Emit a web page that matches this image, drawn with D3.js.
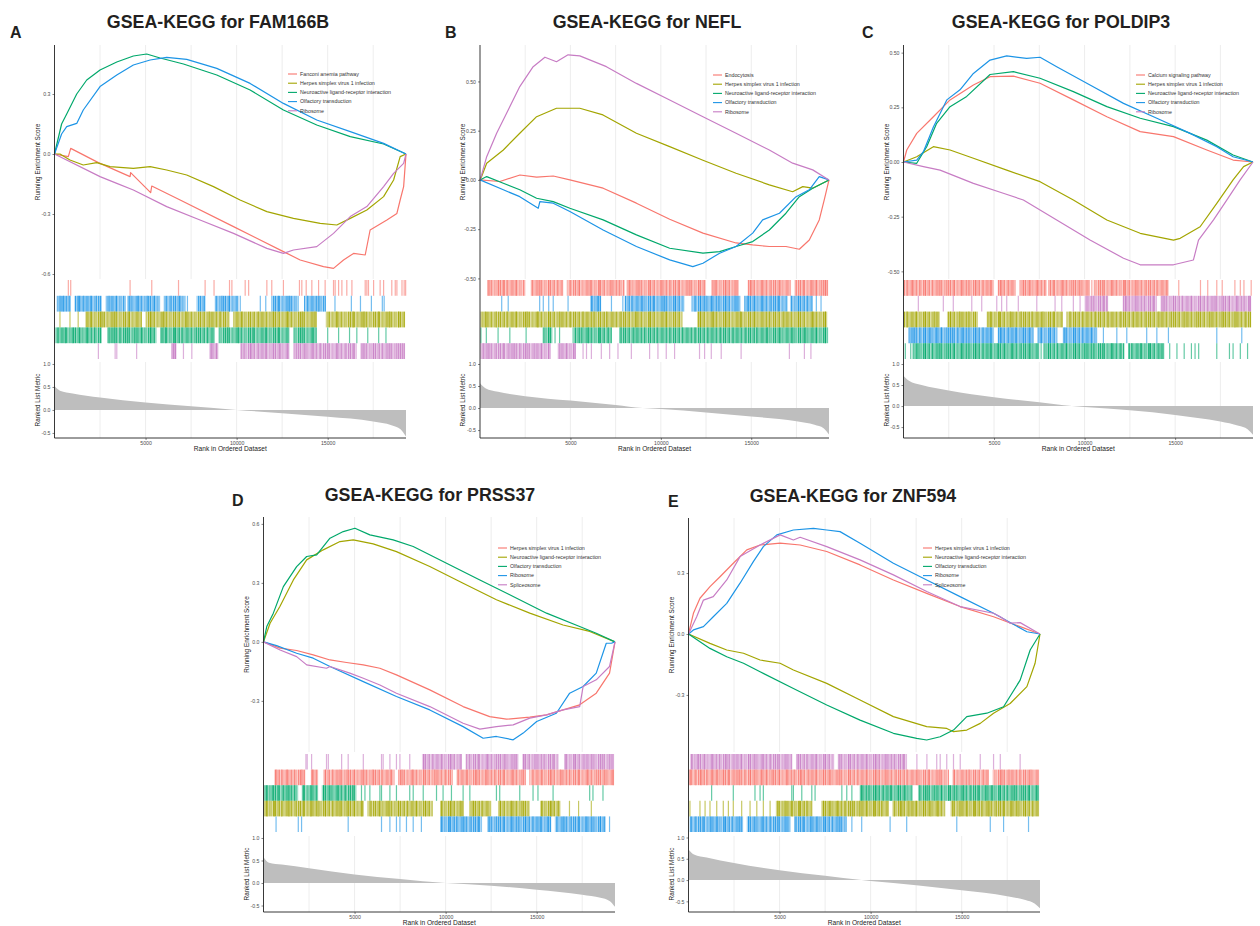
<!DOCTYPE html>
<html>
<head>
<meta charset="utf-8">
<script src="https://cdn.jsdelivr.net/npm/d3@7"></script>
<style>
	body {margin: 0; background: #fff;}
	svg {display: block; font-family: "Liberation Sans", Arial, sans-serif;}
</style>
</head>
<body>
<svg id="fig" width="1260" height="926"></svg>
<script>
// ggplot-like hue palette, legend order
const colors = ["#F8766D", "#A3A500", "#00A86B", "#1C94E6", "#C77CC4"];
const nGenes = 19300;
const rankTicks = [5000, 10000, 15000];
const gridRanks = [2500, 5000, 7500, 10000, 12500, 15000, 17500];
const metricTicks = [-0.5, 0, 0.5, 1.0];

// ES points are [rank in thousands, running enrichment score]
// rug rows are [series index, hits]; a number is one hit, a pair is a dense run of hits
// ---------- A ----------
const titleA = "GSEA-KEGG for FAM166B";
const namesA = ["Fanconi anemia pathway", "Herpes simplex virus 1 infection", "Neuroactive ligand-receptor interaction", "Olfactory transduction", "Ribosome"];
const esA = [
	[[0,0],[0.76,-0.013],[0.89,0.028],[2.41,-0.043],[4.15,-0.113],[4.18,-0.093],[5.28,-0.193],[5.34,-0.16],[6.9,-0.23],[9.83,-0.363],[12.57,-0.488],[13.49,-0.53],[14.77,-0.563],[15.32,-0.572],[15.87,-0.53],[16.42,-0.497],[17.06,-0.505],[17.33,-0.38],[18.25,-0.33],[18.8,-0.297],[18.98,-0.23],[19.17,-0.163],[19.3,0]],
	[[0,0],[0.3,0],[0.85,-0.03],[1.58,-0.055],[2.32,-0.043],[3.05,-0.063],[4.33,-0.072],[5.25,-0.063],[6.16,-0.08],[7.26,-0.105],[8.73,-0.163],[10.19,-0.23],[11.66,-0.288],[13.12,-0.322],[14.59,-0.347],[15.5,-0.355],[16.24,-0.322],[17.15,-0.28],[18.07,-0.213],[18.62,-0.13],[18.98,-0.013],[19.3,0]],
	[[0,0],[0.39,0.15],[0.67,0.2],[1.22,0.3],[1.77,0.37],[2.5,0.42],[3.42,0.46],[4.33,0.49],[5.06,0.5],[5.8,0.48],[7.08,0.45],[8.91,0.395],[10.74,0.32],[12.57,0.22],[14.4,0.145],[16.24,0.087],[18.07,0.05],[19.3,0]],
	[[0,0],[0.39,0.1],[0.67,0.137],[1.22,0.153],[1.58,0.22],[2.5,0.337],[3.42,0.395],[4.33,0.445],[5.25,0.47],[6.16,0.483],[7.26,0.473],[8.91,0.428],[10.74,0.353],[12.57,0.253],[14.4,0.17],[16.24,0.112],[18.07,0.053],[19.3,0]],
	[[0,0],[2.5,-0.113],[3.42,-0.147],[4.33,-0.18],[6.16,-0.263],[7.99,-0.33],[9.83,-0.397],[11.66,-0.472],[12.57,-0.497],[13.12,-0.48],[14.4,-0.463],[15.32,-0.397],[16.24,-0.313],[17.15,-0.263],[18.07,-0.163],[18.62,-0.097],[19.17,-0.047],[19.3,0]]
];
const rugA = [
	[0, [0.76,0.89,4.15,5.34,6.81,8.27,8.76,9.61,9.74,10.47,10.66,11.66,11.93,12.57,13.45,13.58,13.82,14.13,14.5,14.86,15.32,15.41,15.6,15.78,16.05,16.33,17.06,17.15,17.24,17.52,17.88,18.07,18.52,18.71,18.8,19.08,19.2,19.28]],
	[3, [[0.12,0.9],[1.1,2.6],[2.8,3.9],[4.0,5.8],[6.0,7.2],[7.8,8.3],[8.8,10.1],[11.9,13.4],[13.7,14.9],0.3,0.5,0.8,1.3,1.4,1.6,2.0,2.3,3.0,3.4,4.2,4.6,5.1,5.5,6.4,6.9,7.3,9.2,9.6,10.2,11.3,11.6,12.3,12.9,13.9,14.5,15.4,16.3,16.8,17.4,18.0,18.1]],
	[1, [[1.7,4.8],[5.0,9.6],[9.8,14.4],[14.9,19.25],0.3,0.85,1.3,2.0,2.6,3.3,4.1,5.3,6.0,7.2,8.5,9.1,10.3,11.2,12.0,12.8,13.6,14.3,15.5,16.4,17.0,17.8,18.4,18.9]],
	[2, [[0,2.6],[2.9,5.6],[5.8,8.8],[9.0,12.9],[13.1,14.4],0.2,0.6,1.0,1.4,1.8,2.2,3.0,3.3,3.6,4.0,4.4,4.8,5.3,6.1,6.6,7.0,7.8,8.4,9.5,10.1,10.9,11.6,12.3,13.6,14.2,15.0,15.6,16.2,16.6,17.2,17.8,18.2]],
	[4, [[6.4,6.7],[8.5,9.0],[10.2,12.9],[13.1,16.6],[16.8,19.25],2.41,3.33,3.42,4.51,6.5,6.62,7.08,7.54,8.6,8.9,10.4,10.8,11.2,11.6,12.0,12.4,12.8,13.3,13.8,14.2,14.6,15.0,15.5,16.0,16.4,17.0,17.5,18.0,18.4,18.8,19.1]]
];
const metricA = [[0,0.52],[0.3,0.42],[1,0.36],[2.5,0.27],[5,0.16],[7.5,0.08],[10,0],[12.5,-0.07],[15,-0.15],[17.5,-0.25],[18.5,-0.33],[19,-0.42],[19.3,-0.58]];

// ---------- B ----------
const titleB = "GSEA-KEGG for NEFL";
const namesB = ["Endocytosis", "Herpes simplex virus 1 infection", "Neuroactive ligand-receptor interaction", "Olfactory transduction", "Ribosome"];
const esB = [
	[[0,0],[1.1,-0.008],[2.21,0.025],[3.13,0.014],[4.05,0.02],[4.97,0],[6.81,-0.042],[8.65,-0.118],[10.49,-0.2],[12.33,-0.27],[14.16,-0.32],[15.08,-0.33],[16.0,-0.338],[16.92,-0.338],[17.66,-0.352],[18.21,-0.305],[18.76,-0.203],[19.04,-0.1],[19.3,0]],
	[[0,0],[0.1,0.02],[0.37,0.085],[1.29,0.152],[2.2,0.237],[3.13,0.321],[4.23,0.364],[5.52,0.364],[6.8,0.33],[8.65,0.237],[10.49,0.169],[12.33,0.1],[14.16,0.034],[16.0,-0.025],[17.29,-0.06],[17.85,-0.034],[18.4,-0.042],[19.3,0]],
	[[0,0],[0.37,0.017],[1.29,-0.017],[2.2,-0.05],[3.13,-0.093],[4.05,-0.11],[4.97,-0.144],[6.81,-0.203],[8.65,-0.279],[10.49,-0.347],[12.33,-0.372],[13.25,-0.364],[14.16,-0.338],[15.08,-0.313],[16.0,-0.254],[16.92,-0.169],[17.66,-0.085],[18.4,-0.042],[19.3,0]],
	[[0,0],[1.29,-0.05],[2.2,-0.085],[3.22,-0.144],[3.31,-0.11],[4.05,-0.118],[4.97,-0.16],[6.81,-0.254],[8.65,-0.338],[10.49,-0.406],[11.77,-0.44],[12.33,-0.423],[13.25,-0.372],[14.16,-0.338],[15.08,-0.27],[15.63,-0.203],[16.56,-0.169],[17.48,-0.085],[18.21,-0.05],[18.76,0.017],[19.3,0]],
	[[0,0],[0.06,0.017],[0.37,0.118],[0.92,0.237],[1.47,0.338],[2.2,0.474],[2.94,0.575],[3.59,0.623],[4.23,0.6],[4.87,0.635],[5.52,0.63],[6.99,0.575],[8.65,0.49],[10.49,0.406],[12.33,0.321],[14.16,0.237],[16.0,0.152],[17.29,0.085],[18.4,0.051],[19.3,0]]
];
const rugB = [
	[0, [[0.4,2.5],[2.8,4.6],[4.8,8.0],[8.1,12.5],[12.8,14.3],[14.8,17.2],[17.4,19.25],0.5,1.0,1.3,1.5,2.0,2.9,3.3,3.8,4.3,5.0,5.5,6.1,6.6,7.2,7.7,8.3,8.8,9.4,10.0,10.5,11.0,11.6,12.1,13.0,13.6,14.1,15.0,15.6,16.1,16.6,17.5,17.9,18.3,18.6,18.9,19.1,19.2]],
	[3, [[6.1,6.7],[8.0,11.3],[11.7,14.4],[14.6,17.0],[17.2,18.4],1.2,1.56,3.3,3.5,3.8,4.05,4.87,6.2,6.5,7.27,7.9,8.4,9.0,9.6,10.2,10.8,11.9,12.2,12.5,12.8,13.2,13.6,14.1,14.8,15.2,15.6,16.1,16.5,17.2,17.6,18.1,18.6,18.86]],
	[1, [[0,11.2],[12.0,19.2],0.3,0.9,1.5,2.0,2.6,3.2,3.8,4.4,5.0,5.7,6.3,7.0,7.8,8.6,9.4,10.3,12.2,12.9,13.6,14.4,15.2,16.0,16.8,17.6,18.4,19.1]],
	[2, [[3.5,4.0],[5.2,7.3],[7.7,19.25],0.05,0.35,1.0,1.65,2.55,3.5,3.8,4.15,4.4,5.15,5.6,6.0,6.6,7.1,7.8,8.5,9.1,9.8,10.5,11.2,11.9,12.6,13.3,14.0,14.7,15.3,15.9,16.6,17.3,18.0,18.6,19.1]],
	[4, [[0,3.9],[4.3,5.3],0.2,0.5,0.9,1.3,1.6,1.9,2.2,2.6,3.0,3.4,3.8,4.4,4.8,5.2,5.7,5.89,6.16,6.71,7.17,7.63,8.37,9.38,9.84,10.3,10.76,12.14,12.42,12.79,13.34,14.44,17.11,17.94,18.3]]
];
const metricB = [[0,0.56],[0.3,0.45],[1,0.37],[2.5,0.27],[5,0.17],[7.5,0.07],[9,0],[10,-0.02],[12.5,-0.1],[15,-0.19],[17.5,-0.3],[18.5,-0.38],[19,-0.46],[19.3,-0.6]];

// ---------- C ----------
const titleC = "GSEA-KEGG for POLDIP3";
const namesC = ["Calcium signaling pathway", "Herpes simplex virus 1 infection", "Neuroactive ligand-receptor interaction", "Olfactory transduction", "Ribosome"];
const esC = [
	[[0,0],[0.18,0.055],[0.73,0.131],[1.65,0.207],[2.57,0.284],[3.86,0.352],[4.78,0.39],[6.07,0.393],[7.54,0.36],[9.38,0.284],[11.23,0.207],[13.07,0.139],[14.91,0.116],[16.75,0.055],[18.2,0.009],[19.3,0]],
	[[0,0],[0.73,0.024],[1.65,0.07],[2.57,0.055],[3.86,0.017],[5.7,-0.037],[7.54,-0.09],[9.38,-0.174],[11.23,-0.265],[13.07,-0.326],[14.91,-0.357],[15.28,-0.349],[16.38,-0.296],[17.3,-0.189],[18.2,-0.082],[18.78,-0.021],[19.3,0]],
	[[0,0],[0.73,-0.006],[1.28,0.07],[1.83,0.177],[2.57,0.253],[3.49,0.3],[4.78,0.4],[6.07,0.413],[7.54,0.383],[9.38,0.322],[11.23,0.253],[13.07,0.2],[14.91,0.162],[16.75,0.1],[18.2,0.032],[19.3,0]],
	[[0,0],[0.73,0.009],[1.1,0.047],[1.65,0.16],[2.39,0.284],[3.12,0.33],[3.86,0.405],[4.78,0.466],[5.7,0.485],[6.8,0.474],[7.54,0.479],[8.46,0.436],[10.3,0.352],[12.15,0.268],[13.99,0.2],[15.83,0.131],[17.3,0.07],[18.2,0.024],[19.3,0]],
	[[0,0],[1.1,-0.021],[2.02,-0.037],[3.86,-0.098],[5.51,-0.143],[6.62,-0.174],[8.46,-0.265],[10.3,-0.357],[12.15,-0.44],[13.07,-0.47],[14.91,-0.47],[16.01,-0.448],[16.29,-0.357],[17.12,-0.265],[17.85,-0.174],[18.59,-0.082],[19.3,0]]
];
const rugC = [
	[0, [[0,5.0],[5.2,6.2],[6.4,7.9],[8.0,10.3],[10.5,14.6],0.2,0.5,0.9,1.2,1.6,2.0,2.4,2.8,3.2,3.6,4.0,4.4,4.8,5.4,5.8,6.6,7.0,7.4,7.8,8.3,8.8,9.3,9.8,10.4,11.0,11.5,12.2,12.8,13.4,14.0,14.6,15.2,16.4,16.8,17.3,17.6,18.3,18.6,18.8,19.2]],
	[4, [[10.0,11.3],[12.1,14.0],[14.2,19.2],0.82,2.2,2.75,3.77,4.32,5.15,5.42,5.7,6.34,7.36,8.37,8.74,9.38,9.75,10.49,11.04,11.22,12.3,12.8,13.3,13.8,14.4,14.9,15.4,15.9,16.4,16.8,17.2,17.6,18.0,18.4,18.8,19.1]],
	[1, [[0,2.0],[2.4,4.1],[4.6,8.8],[9.0,19.2],0.2,0.7,1.2,1.7,2.6,3.1,3.6,4.8,5.3,5.9,6.5,7.1,7.7,8.3,9.2,9.9,10.6,11.3,12.0,12.7,13.4,14.1,14.8,15.5,16.2,16.9,17.6,18.3,18.9]],
	[3, [[0.3,5.0],[5.2,7.2],[7.4,8.5],[8.8,10.7],0.3,0.6,0.9,1.2,1.5,1.8,2.1,2.4,2.7,3.0,3.3,3.6,4.0,4.4,4.8,5.4,5.8,6.2,6.6,7.0,7.6,8.1,8.9,9.4,9.9,10.4,11.04,11.78,12.33,13.43,13.99,14.63,17.3,18.68]],
	[2, [[0.5,7.5],[7.7,12.2],[12.4,14.4],0.1,0.4,0.8,1.2,1.6,2.0,2.4,2.8,3.2,3.6,4.0,4.4,4.8,5.2,5.6,6.0,6.5,7.0,7.6,8.0,8.5,9.0,9.5,10.0,10.5,11.0,11.5,12.0,12.6,13.1,13.6,14.1,14.7,15.1,15.5,15.9,16.1,16.3,17.3,18.0,18.2,18.6,19.0]]
];
const metricC = [[0,0.72],[0.3,0.6],[1,0.5],[2.5,0.37],[5,0.21],[7.5,0.09],[9.3,0],[10,-0.02],[12.5,-0.1],[15,-0.21],[17.5,-0.37],[18.5,-0.47],[19,-0.55],[19.3,-0.68]];

// ---------- D ----------
const titleD = "GSEA-KEGG for PRSS37";
const namesD = ["Herpes simplex virus 1 infection", "Neuroactive ligand-receptor interaction", "Olfactory transduction", "Ribosome", "Spliceosome"];
const esD = [
	[[0,0],[0.91,-0.032],[1.82,-0.044],[2.73,-0.066],[3.65,-0.092],[4.56,-0.105],[5.48,-0.117],[6.39,-0.134],[7.3,-0.168],[9.13,-0.244],[10.96,-0.329],[12.42,-0.38],[13.34,-0.393],[14.62,-0.383],[15.54,-0.371],[16.45,-0.346],[17.36,-0.32],[18.27,-0.261],[19.0,-0.159],[19.3,0]],
	[[0,0],[0.36,0.095],[0.9,0.18],[1.64,0.315],[2.37,0.417],[3.28,0.468],[4.2,0.51],[4.93,0.519],[6.02,0.498],[7.3,0.459],[9.13,0.383],[10.96,0.298],[12.79,0.214],[14.62,0.146],[16.45,0.086],[17.91,0.053],[19.3,0]],
	[[0,0],[0.18,0.078],[0.54,0.146],[1.09,0.281],[1.82,0.383],[2.37,0.434],[2.92,0.442],[3.65,0.527],[4.38,0.561],[5.02,0.578],[5.84,0.544],[7.12,0.519],[8.22,0.485],[10.05,0.4],[11.88,0.315],[13.71,0.231],[15.54,0.146],[17.36,0.078],[18.27,0.044],[19.3,0]],
	[[0,0],[0.72,-0.019],[1.82,-0.058],[2.73,-0.083],[3.65,-0.125],[5.48,-0.202],[7.3,-0.278],[9.13,-0.346],[10.96,-0.431],[12.06,-0.49],[12.79,-0.481],[13.71,-0.498],[14.26,-0.464],[15.0,-0.405],[16.08,-0.363],[16.81,-0.261],[17.55,-0.227],[18.27,-0.159],[18.82,-0.007],[19.1,-0.007],[19.3,0]],
	[[0,0],[0.91,-0.041],[1.82,-0.075],[2.37,-0.117],[3.46,-0.134],[3.65,-0.125],[4.74,-0.159],[5.48,-0.185],[6.39,-0.219],[7.3,-0.261],[9.13,-0.329],[10.96,-0.414],[11.88,-0.444],[12.79,-0.431],[13.71,-0.422],[14.62,-0.388],[15.54,-0.371],[16.45,-0.346],[17.36,-0.329],[17.55,-0.227],[18.27,-0.193],[19.0,-0.125],[19.3,0]]
];
const rugD = [
	[4, [[8.7,10.9],[11.1,14.0],[14.2,16.2],[16.5,19.25],2.33,2.4,2.64,3.46,3.56,4.29,4.65,5.48,6.48,6.57,6.94,7.3,7.49,8.03,8.8,9.3,9.8,10.3,10.8,11.3,11.8,12.3,12.8,13.3,13.8,14.3,14.9,15.4,15.9,16.6,17.1,17.6,18.1,18.6,19.0]],
	[0, [[0.6,2.3],[2.6,3.0],[3.3,7.2],[7.4,10.4],[10.6,14.4],[14.6,19.25],0.7,1.0,1.3,1.7,2.1,2.7,3.4,3.8,4.2,4.6,5.0,5.5,6.0,6.5,7.0,7.6,8.2,8.8,9.4,10.0,10.7,11.2,11.7,12.2,12.7,13.2,13.7,14.2,14.8,15.3,15.8,16.3,16.8,17.3,17.8,18.3,18.8,19.2]],
	[2, [[0,1.9],[2.1,3.0],[3.2,5.1],0.2,0.5,0.8,1.1,1.4,1.7,2.2,2.6,3.3,3.7,4.1,4.5,4.9,5.38,5.57,5.84,6.39,6.48,6.94,7.3,8.03,8.22,8.77,9.5,9.86,10.32,10.96,11.33,12.79,12.97,14.07,14.8,15.07,15.9,17.91,18.09,18.64]],
	[1, [[0,5.5],[5.7,9.3],[9.7,11.0],[11.3,12.5],[12.9,14.6],[15.2,16.3],0.2,0.6,1.0,1.4,1.8,2.2,2.6,3.0,3.4,3.8,4.2,4.6,5.0,5.4,5.9,6.4,6.9,7.4,7.9,8.4,8.9,9.8,10.3,10.8,11.5,12.0,13.0,13.6,14.2,15.3,15.8,16.2,16.8,17.3,18.0]],
	[3, [[9.7,12.0],[12.3,15.8],[16.0,18.8],0.69,1.91,2.09,4.65,6.48,6.94,7.3,7.49,7.85,8.22,8.67,9.8,10.2,10.6,11.0,11.4,11.8,12.4,12.8,13.2,13.6,14.0,14.4,14.8,15.2,15.6,16.1,16.5,16.9,17.3,17.7,18.1,18.5,19.0]]
];
const metricD = [[0,0.57],[0.3,0.45],[1,0.41],[2.5,0.33],[5,0.19],[7.5,0.09],[10,0],[12.5,-0.06],[15,-0.15],[17.5,-0.26],[18.5,-0.33],[19,-0.4],[19.3,-0.53]];

// ---------- E ----------
const titleE = "GSEA-KEGG for ZNF594";
const namesE = ["Herpes simplex virus 1 infection", "Neuroactive ligand-receptor interaction", "Olfactory transduction", "Ribosome", "Spliceosome"];
const esE = [
	[[0,0],[0.27,0.102],[0.63,0.176],[1.18,0.233],[1.73,0.282],[2.46,0.348],[3.2,0.414],[3.93,0.438],[5.03,0.447],[6.13,0.438],[7.59,0.406],[9.42,0.34],[11.25,0.266],[13.08,0.2],[14.91,0.135],[16.75,0.085],[18.21,0.036],[19.3,0]],
	[[0,0],[1.18,-0.046],[2.1,-0.079],[3.02,-0.095],[3.93,-0.128],[5.03,-0.144],[5.76,-0.177],[7.59,-0.243],[9.42,-0.325],[11.25,-0.407],[13.08,-0.456],[14.18,-0.465],[14.55,-0.481],[15.28,-0.473],[16.02,-0.44],[16.75,-0.39],[17.66,-0.342],[18.58,-0.259],[19.03,-0.144],[19.3,0]],
	[[0,0],[1.18,-0.071],[2.1,-0.112],[3.02,-0.144],[3.93,-0.186],[5.76,-0.268],[7.59,-0.35],[9.42,-0.424],[11.25,-0.489],[12.53,-0.514],[13.08,-0.522],[13.82,-0.506],[14.55,-0.473],[15.28,-0.407],[16.38,-0.39],[17.3,-0.358],[18.21,-0.227],[18.76,-0.079],[19.3,0]],
	[[0,0],[0.27,0.02],[0.82,0.036],[1.36,0.085],[2.1,0.151],[2.83,0.25],[3.56,0.356],[4.11,0.43],[4.85,0.488],[5.76,0.512],[6.86,0.52],[7.59,0.512],[8.32,0.504],[9.42,0.447],[11.25,0.348],[13.08,0.266],[14.91,0.184],[16.75,0.102],[18.58,0.011],[19.3,0]],
	[[0,0],[0.45,0.085],[0.82,0.167],[1.36,0.184],[2.1,0.266],[2.83,0.381],[3.93,0.438],[5.03,0.488],[5.76,0.463],[6.13,0.476],[7.59,0.43],[9.42,0.365],[11.25,0.291],[13.08,0.209],[14.91,0.135],[16.75,0.102],[17.12,0.085],[17.66,0.053],[18.21,0.056],[19.3,0]]
];
const rugE = [
	[4, [[0.1,5.7],[5.9,8.0],[8.2,12.0],0.2,0.5,0.9,1.3,1.7,2.1,2.5,2.9,3.3,3.7,4.1,4.5,4.9,5.3,6.0,6.5,7.0,7.5,8.3,8.8,9.3,9.8,10.3,10.8,11.3,11.8,12.54,13.09,13.63,13.82,14.18,14.55,14.92,16.02,16.75,17.12,18.21]],
	[0, [[0,14.3],[14.5,16.5],[16.7,19.25],0.1,0.4,0.7,1.0,1.3,1.6,1.9,2.2,2.5,2.8,3.1,3.4,3.7,4.0,4.3,4.6,5.0,5.4,5.8,6.2,6.6,7.0,7.4,7.8,8.3,8.8,9.3,9.8,10.3,10.8,11.4,12.0,12.6,13.2,13.8,14.6,15.4,16.2,17.2,17.6,18.2,18.8]],
	[2, [[9.4,12.3],[12.6,19.25],1.27,2.46,3.65,3.93,4.11,5.67,5.76,6.22,6.77,6.95,8.42,8.69,8.97,9.5,9.9,10.3,10.7,11.1,11.5,11.9,12.7,13.1,13.5,13.9,14.3,14.7,15.1,15.5,15.9,16.3,16.7,17.1,17.5,17.9,18.3,18.7,19.1]],
	[1, [[4.8,6.8],[7.3,11.0],[11.2,14.1],[14.4,19.25],0.08,0.63,0.91,1.18,1.55,1.91,2.19,2.46,2.92,3.38,3.75,4.11,4.48,4.9,5.3,5.7,6.1,6.5,7.4,7.8,8.2,8.6,9.0,9.4,9.8,10.2,10.6,11.3,11.7,12.1,12.5,12.9,13.3,13.7,14.5,14.9,15.3,15.7,16.1,16.5,16.9,17.3,17.7,18.1,18.5,18.9]],
	[3, [[0.1,3.0],[3.2,5.6],[5.8,8.7],0.1,0.4,0.8,1.2,1.6,2.0,2.4,2.8,3.3,3.7,4.1,4.5,4.9,5.3,5.9,6.3,6.7,7.1,7.5,7.9,8.3,8.97,9.51,11.07,11.98,14.73,16.57,17.3,18.67]]
];
const metricE = [[0,0.72],[0.3,0.6],[1,0.53],[2.5,0.4],[5,0.23],[7.5,0.1],[9.5,0],[10,-0.02],[12.5,-0.12],[15,-0.24],[17.5,-0.38],[18.5,-0.47],[19,-0.55],[19.3,-0.66]];

// panel geometry (pixels) and axis ranges
const panels = [
	{label: "A", title: titleA, names: namesA, es: esA, rug: rugA, metric: metricA,
		x0: 54.5, x1: 406, top: 45, esBottom: 279, rugTop: 280, rugBottom: 359, metTop: 362, metBottom: 438,
		esDomain: [-0.625, 0.545], metDomain: [-0.61, 1.043], esTicks: [-0.6, -0.3, 0, 0.3], digits: 1,
		titleX: 218, titleY: 28, letterX: 10, letterY: 38, legendX: 288, legendY: 74},
	{label: "B", title: titleB, names: namesB, es: esB, rug: rugB, metric: metricB,
		x0: 480, x1: 829, top: 45, esBottom: 279, rugTop: 280, rugBottom: 359, metTop: 362, metBottom: 438,
		esDomain: [-0.503, 0.685], metDomain: [-0.68, 1.045], esTicks: [-0.5, -0.25, 0, 0.25, 0.5], digits: 2,
		titleX: 647, titleY: 28, letterX: 445, letterY: 38, legendX: 713, legendY: 75},
	{label: "C", title: titleC, names: namesC, es: esC, rug: rugC, metric: metricC,
		x0: 903.5, x1: 1253, top: 45, esBottom: 279, rugTop: 280, rugBottom: 359, metTop: 362, metBottom: 438,
		esDomain: [-0.535, 0.535], metDomain: [-0.76, 1.048], esTicks: [-0.5, -0.25, 0, 0.25, 0.5], digits: 2,
		titleX: 1061, titleY: 28, letterX: 862, letterY: 38, legendX: 1136, legendY: 75},
	{label: "D", title: titleD, names: namesD, es: esD, rug: rugD, metric: metricD,
		x0: 263.5, x1: 615, top: 517, esBottom: 752, rugTop: 754, rugBottom: 832, metTop: 836, metBottom: 912,
		esDomain: [-0.56, 0.635], metDomain: [-0.644, 1.044], esTicks: [-0.3, 0, 0.3, 0.6], digits: 1,
		titleX: 430, titleY: 501, letterX: 232, letterY: 506, legendX: 498, legendY: 548},
	{label: "E", title: titleE, names: namesE, es: esE, rug: rugE, metric: metricE,
		x0: 688.5, x1: 1040, top: 518, esBottom: 752, rugTop: 754, rugBottom: 832, metTop: 836, metBottom: 912,
		esDomain: [-0.581, 0.571], metDomain: [-0.75, 1.035], esTicks: [-0.3, 0, 0.3], digits: 1,
		titleX: 853, titleY: 502, letterX: 668, letterY: 507, legendX: 923, legendY: 548}
];

const svg = d3.select("#fig");

// Striped fill for dense runs of hits, so they read like packed tick marks
const stripes = [[0, 1.2, 0.85], [2.1, 0.8, 0.5], [3.4, 1.4, 0.9], [5.6, 0.7, 0.45], [7.0, 1.1, 0.75], [8.9, 0.9, 0.55], [10.6, 1.3, 0.85]];
const defs = svg.append("defs");
colors.forEach((c, i) => {
	const pat = defs.append("pattern").attr("id", `hits${i}`)
		.attr("patternUnits", "userSpaceOnUse").attr("width", 12.5).attr("height", 20);
	pat.append("rect").attr("width", 12.5).attr("height", 20).attr("fill", c).attr("opacity", 0.28);
	for (const [o, w, a] of stripes) {
		pat.append("rect").attr("x", o).attr("width", w).attr("height", 20).attr("fill", c).attr("opacity", a);
	}
});

function styleAxis(sel) {
	sel.select(".domain").remove();
	sel.selectAll(".tick line").attr("stroke", "#333").attr("stroke-width", 0.6);
	sel.selectAll(".tick text").attr("fill", "#4d4d4d").attr("font-size", "5.2px").attr("font-family", "Liberation Sans, Arial, sans-serif");
}

function drawPanel(p) {
	const g = svg.append("g");
	const x = d3.scaleLinear().domain([0, nGenes]).range([p.x0, p.x1]);
	const yEs = d3.scaleLinear().domain(p.esDomain).range([p.esBottom, p.top]);
	const yMet = d3.scaleLinear().domain(p.metDomain).range([p.metBottom, p.metTop]);

	// Vertical grid lines
	for (const r of gridRanks) {
		g.append("line").attr("x1", x(r)).attr("x2", x(r)).attr("y1", p.top).attr("y2", p.esBottom)
			.attr("stroke", "#ebebeb").attr("stroke-width", 0.9);
		g.append("line").attr("x1", x(r)).attr("x2", x(r)).attr("y1", p.metTop).attr("y2", p.metBottom)
			.attr("stroke", "#ebebeb").attr("stroke-width", 0.9);
	}

	// Running enrichment score
	const line = d3.line().x(d => x(d[0] * 1000)).y(d => yEs(d[1]));
	p.es.forEach((s, i) => {
		g.append("path").attr("d", line(s)).attr("fill", "none")
			.attr("stroke", colors[i]).attr("stroke-width", 1.2).attr("stroke-linejoin", "round");
	});

	g.append("g").attr("transform", `translate(${p.x0},0)`)
		.call(d3.axisLeft(yEs).tickValues(p.esTicks).tickSize(2).tickPadding(2)
			.tickFormat(d => d.toFixed(p.digits)))
		.call(styleAxis);

	// Hit rug
	const rowH = (p.rugBottom - p.rugTop) / p.rug.length;
	p.rug.forEach(([ci, hits], row) => {
		const y0 = p.rugTop + row * rowH;
		for (const h of hits) {
			if (Array.isArray(h)) {
				g.append("rect").attr("x", x(h[0] * 1000)).attr("width", x(h[1] * 1000) - x(h[0] * 1000))
					.attr("y", y0).attr("height", rowH).attr("fill", `url(#hits${ci})`);
			} else {
				g.append("line").attr("x1", x(h * 1000)).attr("x2", x(h * 1000))
					.attr("y1", y0).attr("y2", y0 + rowH)
					.attr("stroke", colors[ci]).attr("stroke-width", 1.2).attr("opacity", 0.6);
			}
		}
	});

	// Ranked list metric
	const area = d3.area().curve(d3.curveMonotoneX)
		.x(d => x(d[0] * 1000)).y0(yMet(0)).y1(d => yMet(d[1]));
	g.append("path").attr("d", area(p.metric)).attr("fill", "#bebebe");

	g.append("g").attr("transform", `translate(${p.x0},0)`)
		.call(d3.axisLeft(yMet).tickValues(metricTicks).tickSize(2).tickPadding(2)
			.tickFormat(d => d.toFixed(1)))
		.call(styleAxis);

	g.append("g").attr("transform", `translate(0,${p.metBottom})`)
		.call(d3.axisBottom(x).tickValues(rankTicks).tickSize(2).tickPadding(1.5)
			.tickFormat(d3.format("d")))
		.call(styleAxis);

	// Axis lines
	g.append("line").attr("x1", p.x0).attr("x2", p.x0).attr("y1", p.top).attr("y2", p.metBottom)
		.attr("stroke", "#222").attr("stroke-width", 0.9);
	g.append("line").attr("x1", p.x0).attr("x2", p.x1).attr("y1", p.metBottom).attr("y2", p.metBottom)
		.attr("stroke", "#222").attr("stroke-width", 0.9);

	// Axis titles
	g.append("text").attr("transform", `translate(${p.x0 - 17},${(p.top + p.esBottom) / 2}) rotate(-90)`)
		.attr("text-anchor", "middle").attr("dy", "0.35em").attr("font-size", "6.4px").attr("fill", "#222")
		.text("Running Enrichment Score");
	g.append("text").attr("transform", `translate(${p.x0 - 17},${(p.metTop + p.metBottom) / 2}) rotate(-90)`)
		.attr("text-anchor", "middle").attr("dy", "0.35em").attr("font-size", "6.4px").attr("fill", "#222")
		.text("Ranked List Metric");
	g.append("text").attr("x", (p.x0 + p.x1) / 2).attr("y", p.metBottom + 12.5)
		.attr("text-anchor", "middle").attr("font-size", "6.6px").attr("fill", "#222")
		.text("Rank in Ordered Dataset");

	// Legend
	p.names.forEach((name, i) => {
		const ly = p.legendY + i * 9.2;
		g.append("line").attr("x1", p.legendX).attr("x2", p.legendX + 9).attr("y1", ly).attr("y2", ly)
			.attr("stroke", colors[i]).attr("stroke-width", 1.1);
		g.append("text").attr("x", p.legendX + 12).attr("y", ly).attr("dy", "0.35em")
			.attr("font-size", "5.3px").attr("fill", "#333").text(name);
	});

	// Title and panel letter
	g.append("text").attr("x", p.titleX).attr("y", p.titleY).attr("text-anchor", "middle")
		.attr("font-size", "17.8px").attr("font-weight", "bold").attr("fill", "#231f20").text(p.title);
	g.append("text").attr("x", p.letterX).attr("y", p.letterY)
		.attr("font-size", "16px").attr("font-weight", "bold").attr("fill", "#231f20").text(p.label);
}

panels.forEach(drawPanel);
</script>
</body>
</html>
